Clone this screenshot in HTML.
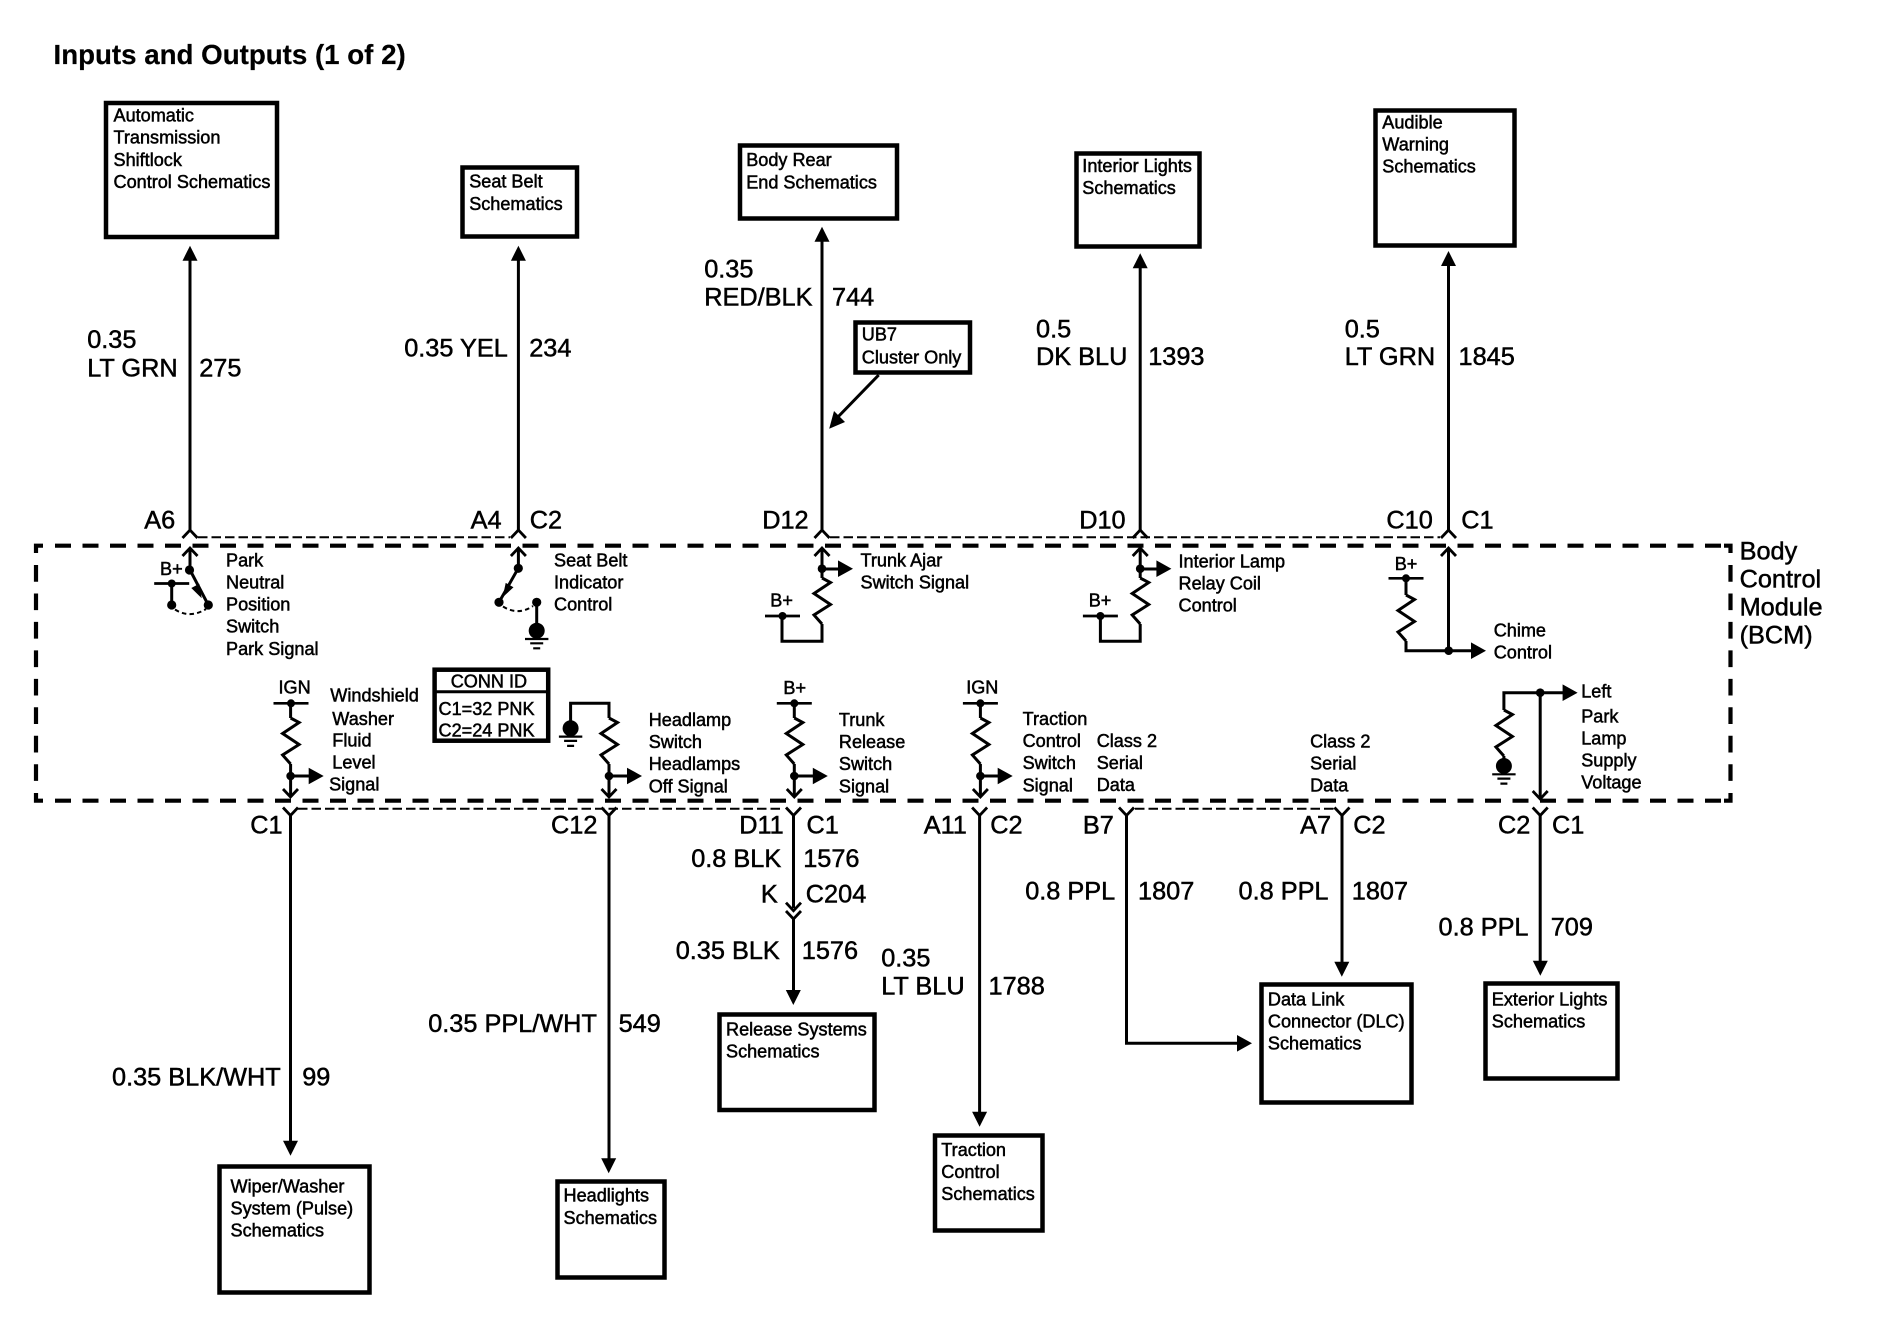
<!DOCTYPE html>
<html><head><meta charset="utf-8"><title>Inputs and Outputs (1 of 2)</title>
<style>
html,body{margin:0;padding:0;background:#fff}
svg{display:block}
text{font-family:"Liberation Sans",sans-serif;fill:#000;stroke:#000;stroke-width:.5}
.s{font-size:18.1px}.l{font-size:25.3px}
.t{font-size:27.7px;font-weight:bold;stroke-width:.2}
.b{fill:none;stroke:#000;stroke-width:4.5}
.w{fill:none;stroke:#000;stroke-width:3}
.d{fill:#000;stroke:none}
.o{fill:none;stroke:#000;stroke-width:2.8}
.m{fill:none;stroke:#000;stroke-width:4.2}
</style></head><body>
<svg width="1898" height="1344" viewBox="0 0 1898 1344" xmlns="http://www.w3.org/2000/svg">
<defs>
<path id="cu" class="o" d="M-7.5 8L0 0L7.5 8"/>
<path id="cd" class="o" d="M-7.5 -8L0 0L7.5 -8"/>
<polygon id="au" class="d" points="0,0 -7.5,15 7.5,15"/>
<polygon id="ad" class="d" points="0,0 -7.5,-15 7.5,-15"/>
<polygon id="ar" class="d" points="0,0 -15,-8.3 -15,8.3"/>
<path id="r" class="w" d="M0 0L8.5 4.5L-8 15.5L8.5 26.5L-8 37L0 46"/>
<g id="g"><circle class="d" r="8"/><path stroke="#000" stroke-width="2.2" d="M-11.7 8.3H11.7M-6.5 12.6H6.5M-3.5 17.6H3.5"/></g>
<circle id="n" class="d" r="4.3"/>
<g id="bar"><path fill="none" stroke="#000" stroke-width="2.7" d="M-17.5 0H17.5"/><circle class="d" r="4"/></g>
</defs>
<text class="t" x="53.5" y="64">Inputs and Outputs (1 of 2)</text>

<!-- schematic boxes -->
<rect class="b" x="106" y="103" width="171" height="134"/>
<rect class="b" x="462.5" y="167.5" width="114.5" height="69"/>
<rect class="b" x="740" y="145.5" width="157" height="73"/>
<rect class="b" x="855.5" y="322.5" width="114.5" height="50"/>
<rect class="b" x="1076.5" y="153.5" width="123" height="93"/>
<rect class="b" x="1375.5" y="110.5" width="139" height="135"/>
<rect class="b" x="219.5" y="1166.5" width="150" height="126"/>
<rect class="b" x="557.5" y="1181.5" width="107" height="96"/>
<rect class="b" x="719.5" y="1014.5" width="155" height="95.5"/>
<rect class="b" x="935" y="1135.5" width="107.5" height="95"/>
<rect class="b" x="1261.5" y="984.5" width="150" height="118"/>
<rect class="b" x="1485.5" y="983.5" width="132" height="95"/>
<g class="s" transform="translate(-.5,0)">
<text x="114" y="121.7">Automatic</text><text x="114" y="143.7">Transmission</text><text x="114" y="166">Shiftlock</text><text x="114" y="188">Control Schematics</text>
<text x="469.7" y="187.7">Seat Belt</text><text x="469.7" y="210">Schematics</text>
<text x="746.7" y="166">Body Rear</text><text x="746.7" y="188.3">End Schematics</text>
<text x="862.3" y="340.7">UB7</text><text x="862.3" y="363.3">Cluster Only</text>
<text x="1082.8" y="172">Interior Lights</text><text x="1082.8" y="194">Schematics</text>
<text x="1382.8" y="128.3">Audible</text><text x="1382.8" y="150.3">Warning</text><text x="1382.8" y="172.3">Schematics</text>
<text x="231" y="1192.7">Wiper/Washer</text><text x="231" y="1214.7">System (Pulse)</text><text x="231" y="1236.7">Schematics</text>
<text x="564" y="1201.7">Headlights</text><text x="564" y="1224">Schematics</text>
<text x="726.5" y="1035.7">Release Systems</text><text x="726.5" y="1057.7">Schematics</text>
<text x="941.8" y="1156">Traction</text><text x="941.8" y="1178">Control</text><text x="941.8" y="1200">Schematics</text>
<text x="1268.4" y="1005.3">Data Link</text><text x="1268.4" y="1027.3">Connector (DLC)</text><text x="1268.4" y="1049.3">Schematics</text>
<text x="1492.3" y="1005.7">Exterior Lights</text><text x="1492.3" y="1027.7">Schematics</text>
</g>

<!-- module outline -->
<path class="m" stroke-dasharray="16 11.5" d="M55 545.7H1726M55 800.7H1726"/>
<path class="m" stroke-dasharray="16.7 11.76" d="M36 565V790M1730.5 565V790"/>
<path class="m" d="M43 545.7H36V553M43 800.7H36V793M1724 545.7H1730.5V553M1724 800.7H1730.5V793"/>
<path fill="none" stroke="#000" stroke-width="2" stroke-dasharray="9.5 4" d="M198 537.3H510M830 537.3H1440M298 808.7H783M1135 808.7H1334"/>

<!-- top wires -->
<path class="w" d="M190 258V530M518.4 258V530M822 239V530M1140.2 267V530M1448.5 265V530"/>
<use href="#au" x="190" y="245.7"/><use href="#au" x="518.4" y="245.7"/><use href="#au" x="822" y="226.7"/><use href="#au" x="1140.2" y="253.3"/><use href="#au" x="1448.5" y="251"/>
<use href="#cu" x="190" y="530"/><use href="#cu" x="518.4" y="530"/><use href="#cu" x="822" y="530"/><use href="#cu" x="1140.2" y="530"/><use href="#cu" x="1448.5" y="530"/>
<use href="#cu" x="190" y="548"/><use href="#cu" x="518.4" y="548"/><use href="#cu" x="822" y="548"/><use href="#cu" x="1140.2" y="548"/><use href="#cu" x="1448.5" y="548"/>

<!-- leader -->
<path class="w" d="M878.7 375L835 420"/>
<polygon class="d" points="829.2,428.7 834,411 845,422"/>

<!-- top wire labels -->
<g class="l" transform="translate(-.8,0)">
<text x="88" y="348">0.35</text><text x="88" y="376.7">LT GRN</text><text x="200" y="376.7">275</text>
<text x="405" y="356.7">0.35 YEL</text><text x="530" y="356.7">234</text>
<text x="705" y="277.7">0.35</text><text x="705" y="305.7">RED/BLK</text><text x="832.8" y="305.7">744</text>
<text x="1036.8" y="337.3">0.5</text><text x="1036.8" y="365">DK BLU</text><text x="1149" y="365">1393</text>
<text x="1345.5" y="337.3">0.5</text><text x="1345.5" y="365">LT GRN</text><text x="1459.3" y="365">1845</text>
<text x="145" y="528.3">A6</text><text x="471.4" y="528.3">A4</text><text x="530.6" y="528.3">C2</text>
<text x="763" y="528.3">D12</text><text x="1080" y="528.3">D10</text>
<text x="1387.2" y="528.3">C10</text><text x="1462" y="528.3">C1</text>
<text x="1740.4" y="559.3">Body</text><text x="1740.4" y="587.3">Control</text><text x="1740.4" y="615.3">Module</text><text x="1740.4" y="643.3">(BCM)</text>
<text x="251" y="833.3">C1</text><text x="551.8" y="833.3">C12</text><text x="740" y="833.3">D11</text><text x="807.3" y="833.3">C1</text>
<text x="924.5" y="833.3">A11</text><text x="991" y="833.3">C2</text><text x="1083.7" y="833.3">B7</text>
<text x="1300.9" y="833.3">A7</text><text x="1354" y="833.3">C2</text><text x="1498.8" y="833.3">C2</text><text x="1552.8" y="833.3">C1</text>
<text x="692" y="867.2">0.8 BLK</text><text x="804" y="867.2">1576</text>
<text x="761.7" y="902.3">K</text><text x="806.6" y="902.3">C204</text>
<text x="676.5" y="958.8">0.35 BLK</text><text x="802.6" y="958.8">1576</text>
<text x="429" y="1032">0.35 PPL/WHT</text><text x="619.4" y="1032">549</text>
<text x="112.8" y="1085.3">0.35 BLK/WHT</text><text x="303" y="1085.3">99</text>
<text x="882" y="966.5">0.35</text><text x="882" y="994.3">LT BLU</text><text x="989.3" y="994.3">1788</text>
<text x="1026" y="899.3">0.8 PPL</text><text x="1138.8" y="899.3">1807</text>
<text x="1239.3" y="899.3">0.8 PPL</text><text x="1352.6" y="899.3">1807</text>
<text x="1439.3" y="935.3">0.8 PPL</text><text x="1551.5" y="935.3">709</text>
</g>

<!-- Park neutral switch -->
<path class="w" d="M190 548V570L208.3 605"/>
<circle class="d" r="4.6" cx="189.5" cy="570"/>
<use href="#bar" x="171.7" y="583.5"/>
<path class="w" d="M171.7 584V605"/>
<circle class="d" r="4.6" cx="171.7" cy="605"/><circle class="d" r="4.6" cx="208.3" cy="605"/>
<polygon class="d" points="201.7,598.3 199.3,583.8 191.3,588"/>
<path fill="none" stroke="#000" stroke-width="2" stroke-dasharray="4.5 3.2" d="M175 609.5Q190 619 206 609"/>
<g class="s"><text x="160" y="575">B+</text>
<text x="226" y="566.7">Park</text><text x="226" y="588.7">Neutral</text><text x="226" y="610.7">Position</text><text x="226" y="632.7">Switch</text><text x="226" y="655">Park Signal</text></g>

<!-- Seat belt switch -->
<path class="w" d="M518.4 548V568L499 602.3"/>
<circle class="d" r="4.6" cx="518.3" cy="568.3"/><circle class="d" r="4.6" cx="499" cy="602.3"/><circle class="d" r="4.6" cx="536.7" cy="602.3"/>
<polygon class="d" points="502.7,597.3 513.5,587.3 505.7,582.9"/>
<path fill="none" stroke="#000" stroke-width="2" stroke-dasharray="4.5 3.2" d="M503 606.5Q518 616 533 606"/>
<path class="w" d="M536.7 603V630"/>
<use href="#g" x="536.7" y="630.7"/>
<g class="s"><text x="554" y="566.7">Seat Belt</text><text x="554" y="588.7">Indicator</text><text x="554" y="610.7">Control</text></g>

<!-- Trunk ajar -->
<path class="w" d="M822 548V578M822 624V641.3H782V616"/>
<path class="w" d="M822 569H840"/>
<use href="#n" x="822" y="568.7"/><use href="#ar" x="853" y="568.7"/>
<use href="#r" x="822" y="578"/>
<use href="#bar" x="782.5" y="616"/>
<g class="s"><text x="770.3" y="606.7">B+</text><text x="860.5" y="566.7">Trunk Ajar</text><text x="860.5" y="588.7">Switch Signal</text></g>

<!-- Interior lamp -->
<path class="w" d="M1140.2 548V578M1140.2 624V641.3H1100.4V616"/>
<path class="w" d="M1140.2 569H1158"/>
<use href="#n" x="1140.2" y="568.7"/><use href="#ar" x="1171.4" y="568.7"/>
<use href="#r" x="1140.2" y="578"/>
<use href="#bar" x="1100.4" y="616"/>
<g class="s"><text x="1088.7" y="606.7">B+</text><text x="1178.5" y="567.3">Interior Lamp</text><text x="1178.5" y="589.3">Relay Coil</text><text x="1178.5" y="611.3">Control</text></g>

<!-- Chime -->
<path class="w" d="M1448.5 548V650.7H1474M1406 641V650.7H1450M1406 578V595"/>
<use href="#n" x="1448.7" y="650.7"/><use href="#ar" x="1486" y="650.7"/>
<use href="#bar" x="1406" y="578.3"/>
<use href="#r" x="1406" y="595"/>
<g class="s"><text x="1394.7" y="570">B+</text><text x="1493.7" y="636.7">Chime</text><text x="1493.7" y="658.3">Control</text></g>

<!-- bottom wires -->
<path class="w" d="M290.5 815V1143M609 815V1160M793.5 815V908M793.5 919V992M979.6 815V1114M1126.5 815V1043.3H1238M1342 815V964M1540.2 815V963"/>
<use href="#cd" x="290.5" y="815.5"/><use href="#cd" x="609" y="815.5"/><use href="#cd" x="793.5" y="815.5"/><use href="#cd" x="979.6" y="815.5"/><use href="#cd" x="1126.5" y="815.5"/><use href="#cd" x="1342" y="815.5"/><use href="#cd" x="1540.2" y="815.5"/>
<use href="#cd" x="290.5" y="797"/><use href="#cd" x="609" y="797"/><use href="#cd" x="794.3" y="797"/><use href="#cd" x="980.4" y="797"/><use href="#cd" x="1540.2" y="799"/>
<use href="#cd" x="793.5" y="910.7"/><use href="#cd" x="793.5" y="919"/>
<use href="#ad" x="290.5" y="1155.7"/><use href="#ad" x="608.7" y="1173.3"/><use href="#ad" x="793.3" y="1005"/><use href="#ad" x="979.6" y="1126.7"/><use href="#ad" x="1341.8" y="976.7"/><use href="#ad" x="1540.3" y="975.7"/>
<use href="#ar" x="1252" y="1043.3"/>

<!-- Washer -->
<use href="#bar" x="291" y="703.3"/>
<path class="w" d="M290.6 703V718M290.6 764V797M290.6 776H310"/>
<use href="#r" x="290.6" y="718"/><use href="#n" x="290.6" y="776"/><use href="#ar" x="323.7" y="776"/>
<g class="s"><text x="278.5" y="693.3">IGN</text>
<text x="330.3" y="701.7">Windshield</text><text x="332.3" y="725">Washer</text><text x="332.3" y="746.7">Fluid</text><text x="332.3" y="768.7">Level</text><text x="329.1" y="790.7">Signal</text></g>

<!-- Conn ID -->
<rect class="b" x="434.6" y="669.7" width="113.6" height="71"/>
<path stroke="#000" stroke-width="3" d="M434.6 691.7H548"/>
<g class="s"><text x="450.7" y="687.3">CONN ID</text><text x="438.5" y="715">C1=32 PNK</text><text x="438.5" y="736.7">C2=24 PNK</text></g>

<!-- Headlamp -->
<path class="w" d="M570.6 728V703.3H609V718M609 764V797M609 776H628"/>
<use href="#g" x="570.6" y="728.3"/>
<use href="#r" x="609" y="718"/><use href="#n" x="609" y="776"/><use href="#ar" x="642" y="776"/>
<g class="s"><text x="648.7" y="726">Headlamp</text><text x="648.7" y="748">Switch</text><text x="648.7" y="770">Headlamps</text><text x="648.7" y="792.3">Off Signal</text></g>

<!-- Trunk release -->
<use href="#bar" x="794.3" y="703.3"/>
<path class="w" d="M794.3 703V718M794.3 764V797M794.3 776H814"/>
<use href="#r" x="794.3" y="718"/><use href="#n" x="794.3" y="776"/><use href="#ar" x="827.8" y="776"/>
<g class="s"><text x="783.4" y="694">B+</text><text x="838.9" y="726">Trunk</text><text x="838.9" y="748">Release</text><text x="838.9" y="770">Switch</text><text x="838.9" y="792.3">Signal</text></g>

<!-- Traction -->
<use href="#bar" x="980.4" y="703.3"/>
<path class="w" d="M980.4 703V718M980.4 764V797M980.4 776H999"/>
<use href="#r" x="980.4" y="718"/><use href="#n" x="980.4" y="776"/><use href="#ar" x="1012.7" y="776"/>
<g class="s"><text x="966.2" y="693.3">IGN</text><text x="1022.6" y="725">Traction</text><text x="1022.6" y="747">Control</text><text x="1022.6" y="769">Switch</text><text x="1022.6" y="791.3">Signal</text>
<text x="1096.7" y="747">Class 2</text><text x="1096.7" y="769">Serial</text><text x="1096.7" y="791">Data</text>
<text x="1310.1" y="747.7">Class 2</text><text x="1310.1" y="769.7">Serial</text><text x="1310.1" y="791.7">Data</text></g>

<!-- Left park -->
<path class="w" d="M1540.2 692.7V799M1503.9 710V692.7H1564"/>
<use href="#n" x="1540.2" y="692.7"/><use href="#ar" x="1577.6" y="692.7"/>
<use href="#r" x="1503.9" y="710"/>
<path class="w" d="M1503.9 756V764"/>
<use href="#g" x="1503.9" y="766"/>
<g class="s"><text x="1581.2" y="697.7">Left</text><text x="1581.2" y="722.7">Park</text><text x="1581.2" y="744.3">Lamp</text><text x="1581.2" y="766.7">Supply</text><text x="1581.2" y="788.3">Voltage</text></g>
</svg>
</body></html>
